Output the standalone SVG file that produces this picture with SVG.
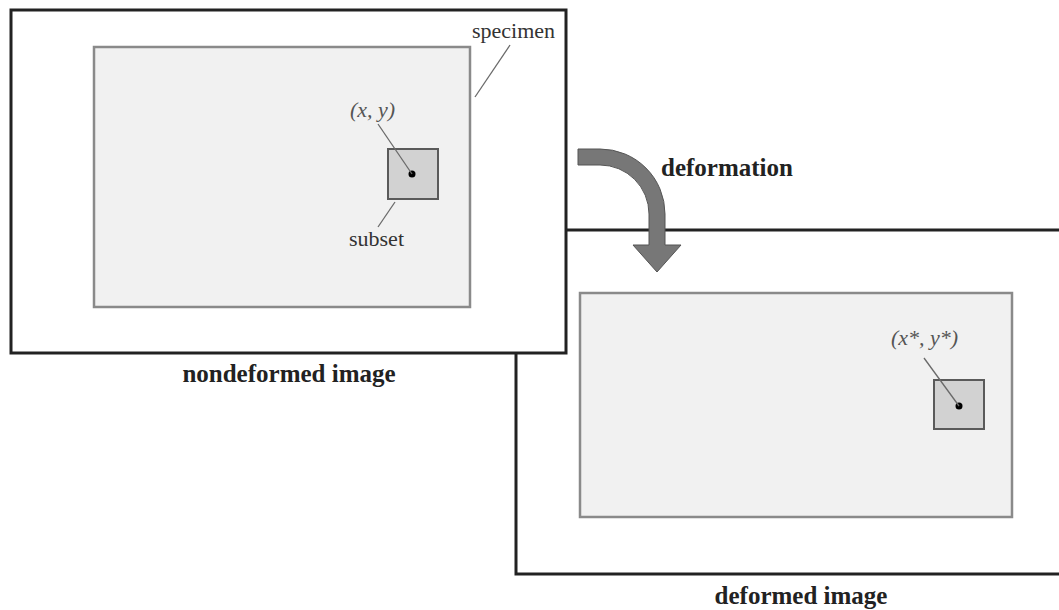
<svg xmlns="http://www.w3.org/2000/svg" width="1059" height="610" viewBox="0 0 1059 610">
<style>
.frame{fill:#fff;stroke:#222;stroke-width:3}
.spec{fill:#f1f1f1;stroke:#8a8a8a;stroke-width:2.5}
.sub{fill:#d2d2d2;stroke:#5a5a5a;stroke-width:2}
.lead{stroke:#6a6a6a;stroke-width:1.3;fill:none}
.lbl{font-family:"Liberation Serif",serif;font-size:22px;fill:#333}
.it{font-family:"Liberation Serif",serif;font-size:22px;font-style:italic;fill:#555}
.cap{font-family:"Liberation Serif",serif;font-size:25px;font-weight:bold;fill:#222}
</style>
<rect width="1059" height="610" fill="#fff"/>
<g id="deformed-image">
  <rect class="frame" x="516" y="230" width="600" height="344"/>
  <rect class="spec" x="580" y="293" width="432" height="224"/>
  <rect class="sub" x="934" y="380" width="50" height="49"/>
  <circle cx="959" cy="406" r="3.5" fill="#000"/>
  <text class="it" x="891" y="345">(x*, y*)</text>
  <text class="cap" x="801" y="604" text-anchor="middle">deformed image</text>
</g>
<g id="nondeformed-image">
  <rect class="frame" x="11" y="10" width="555" height="343"/>
  <rect class="spec" x="94" y="47" width="376" height="260"/>
  <rect class="sub" x="388" y="149" width="50" height="50"/>
  <circle cx="412" cy="174" r="3.5" fill="#000"/>
  <text class="lbl" x="472" y="38">specimen</text>
  <text class="it" x="350" y="117">(x, y)</text>
  <text class="lbl" x="349" y="246">subset</text>
  <text class="cap" x="289" y="382" text-anchor="middle">nondeformed image</text>
</g>
<g id="connectors">
  <line class="lead" x1="510" y1="45" x2="475" y2="97"/>
  <line class="lead" x1="378" y1="124" x2="412" y2="174"/>
  <line class="lead" x1="395" y1="202" x2="378" y2="227"/>
  <line class="lead" x1="924" y1="358" x2="959" y2="406"/>
  <path d="M578,149 L600,149 A65,65 0 0 1 665,214 L665,245 L681,245 L657,272 L633,245 L649,245 L649,214 A49,49 0 0 0 600,165 L578,165 Z" fill="#777" stroke="#555" stroke-width="1"/>
  <text class="cap" x="727" y="176" text-anchor="middle">deformation</text>
</g>
</svg>
